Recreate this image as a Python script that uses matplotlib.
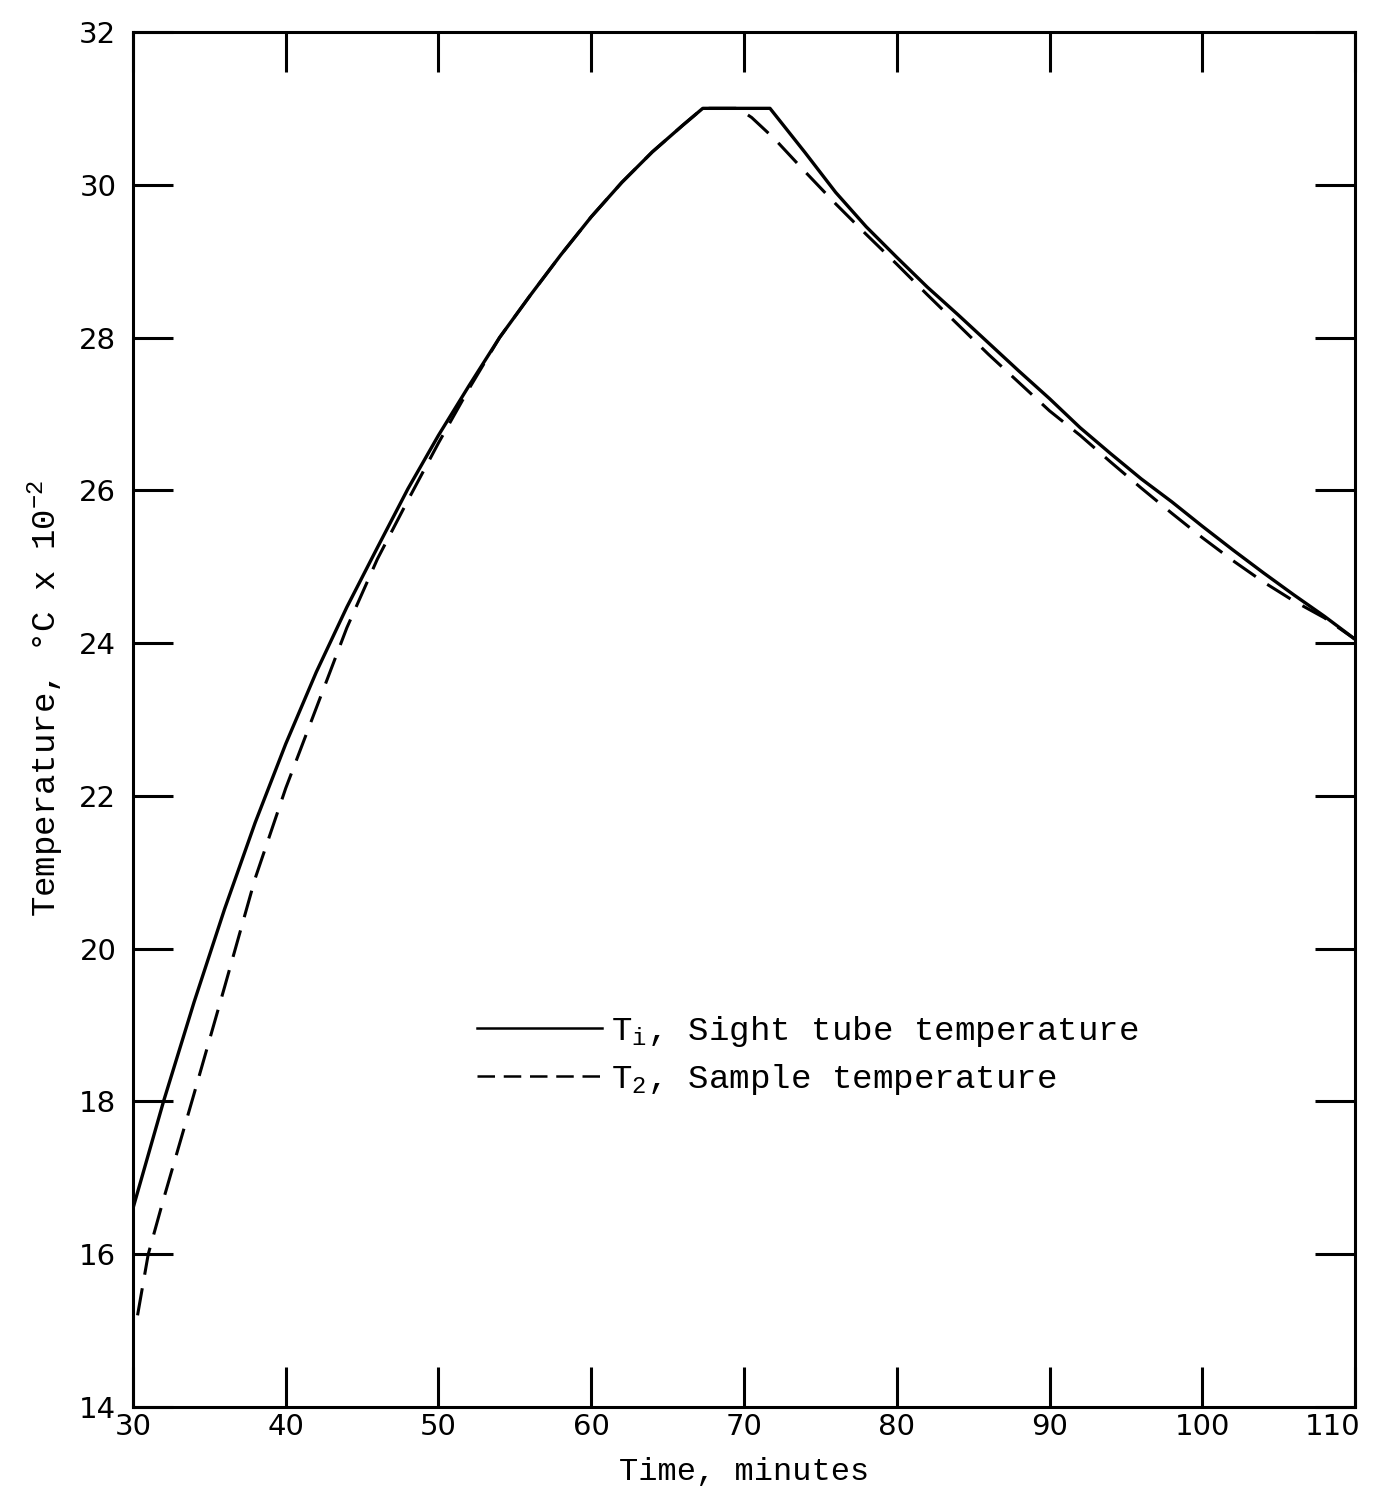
import matplotlib
matplotlib.use("Agg")
import matplotlib.pyplot as plt
import matplotlib.transforms as mtransforms

# Sight tube temperature T_i
time_ti = [30, 32, 34, 36, 38, 40, 42, 44, 46, 48, 50, 52, 54, 56, 58, 60,
           62, 64, 66, 67.3, 71.7, 74, 76, 78, 80, 82, 84, 86, 88, 90, 92,
           94, 96, 98, 100, 102, 104, 106, 108, 110]
temp_ti = [16.6, 18.0, 19.3, 20.52, 21.65, 22.68, 23.62, 24.47, 25.25, 26.02,
           26.72, 27.37, 28.0, 28.55, 29.08, 29.58, 30.03, 30.43, 30.78, 31.0,
           31.0, 30.42, 29.9, 29.45, 29.05, 28.66, 28.3, 27.93, 27.56, 27.2,
           26.82, 26.48, 26.15, 25.85, 25.53, 25.22, 24.92, 24.63, 24.35, 24.05]

# Sample temperature T_2
time_t2 = [30.3, 31, 32, 34, 36, 38, 40, 42, 44, 46, 48, 50, 52, 54, 56, 58,
           60, 62, 64, 66, 67.3, 69.6, 70.5, 72, 74, 76, 78, 80, 82, 84, 86,
           88, 90, 92, 94, 96, 98, 100, 102, 104, 106, 108, 110]
temp_t2 = [15.2, 16.0, 16.72, 18.1, 19.5, 20.92, 22.1, 23.15, 24.2, 25.1,
           25.87, 26.62, 27.33, 28.0, 28.55, 29.08, 29.58, 30.03, 30.43, 30.78,
           31.0, 31.0, 30.88, 30.6, 30.17, 29.75, 29.35, 28.96, 28.56, 28.17,
           27.78, 27.41, 27.04, 26.72, 26.37, 26.03, 25.7, 25.38, 25.08, 24.8,
           24.55, 24.33, 24.05]

x_ticks = [30, 40, 50, 60, 70, 80, 90, 100, 110]
y_ticks = [14, 16, 18, 20, 22, 24, 26, 28, 30, 32]

plt.rcParams['mathtext.fontset'] = 'custom'
plt.rcParams['mathtext.rm'] = 'Liberation Mono'
plt.rcParams['mathtext.it'] = 'Liberation Mono'

mono = 'Liberation Mono'
lw = 2.2

fig = plt.figure(figsize=(13.75, 14.93), dpi=100)
ax = fig.add_axes([0.0967, 0.0576, 0.8888, 0.921])

ax.plot(time_ti, temp_ti, color='black', lw=2.4,
        label=r"T$_{\mathrm{i}}$, Sight tube temperature")
ax.plot(time_t2, temp_t2, color='black', lw=lw, dashes=(9, 4.5),
        label=r"T$_{2}$, Sample temperature")

ax.set_xlim(30, 110)
ax.set_ylim(14, 32)
ax.set_xticks(x_ticks)
ax.set_yticks(y_ticks)

for s in ax.spines.values():
    s.set_linewidth(lw)

ax.tick_params(axis='both', direction='in', length=29, width=lw,
               top=True, right=True, labelsize=21)
ax.tick_params(axis='x', pad=4)
ax.tick_params(axis='y', pad=12)

# the last x label sits inside the frame in the original
xlabels = ax.get_xticklabels()
xlabels[-1].set_transform(xlabels[-1].get_transform() +
                          mtransforms.ScaledTranslation(-0.22, 0, fig.dpi_scale_trans))

ax.set_xlabel("Time, minutes", fontfamily=mono, fontsize=23, labelpad=12)
ax.set_ylabel(r"Temperature, °C x 10$^{-2}$", fontfamily=mono, fontsize=24.5)
ax.yaxis.set_label_coords(-0.055, 0.515)

leg = ax.legend(loc='upper left', bbox_to_anchor=(0.2815, 0.286),
                frameon=False, handlelength=3.65, handletextpad=0.26,
                borderpad=0, borderaxespad=0, labelspacing=0.4,
                prop={'family': mono, 'size': 24.6})
for h in leg.get_lines():
    h.set_linewidth(1.8)
leg.get_lines()[1].set_dashes((7, 3.5))

fig.savefig("out.png", dpi=100)
